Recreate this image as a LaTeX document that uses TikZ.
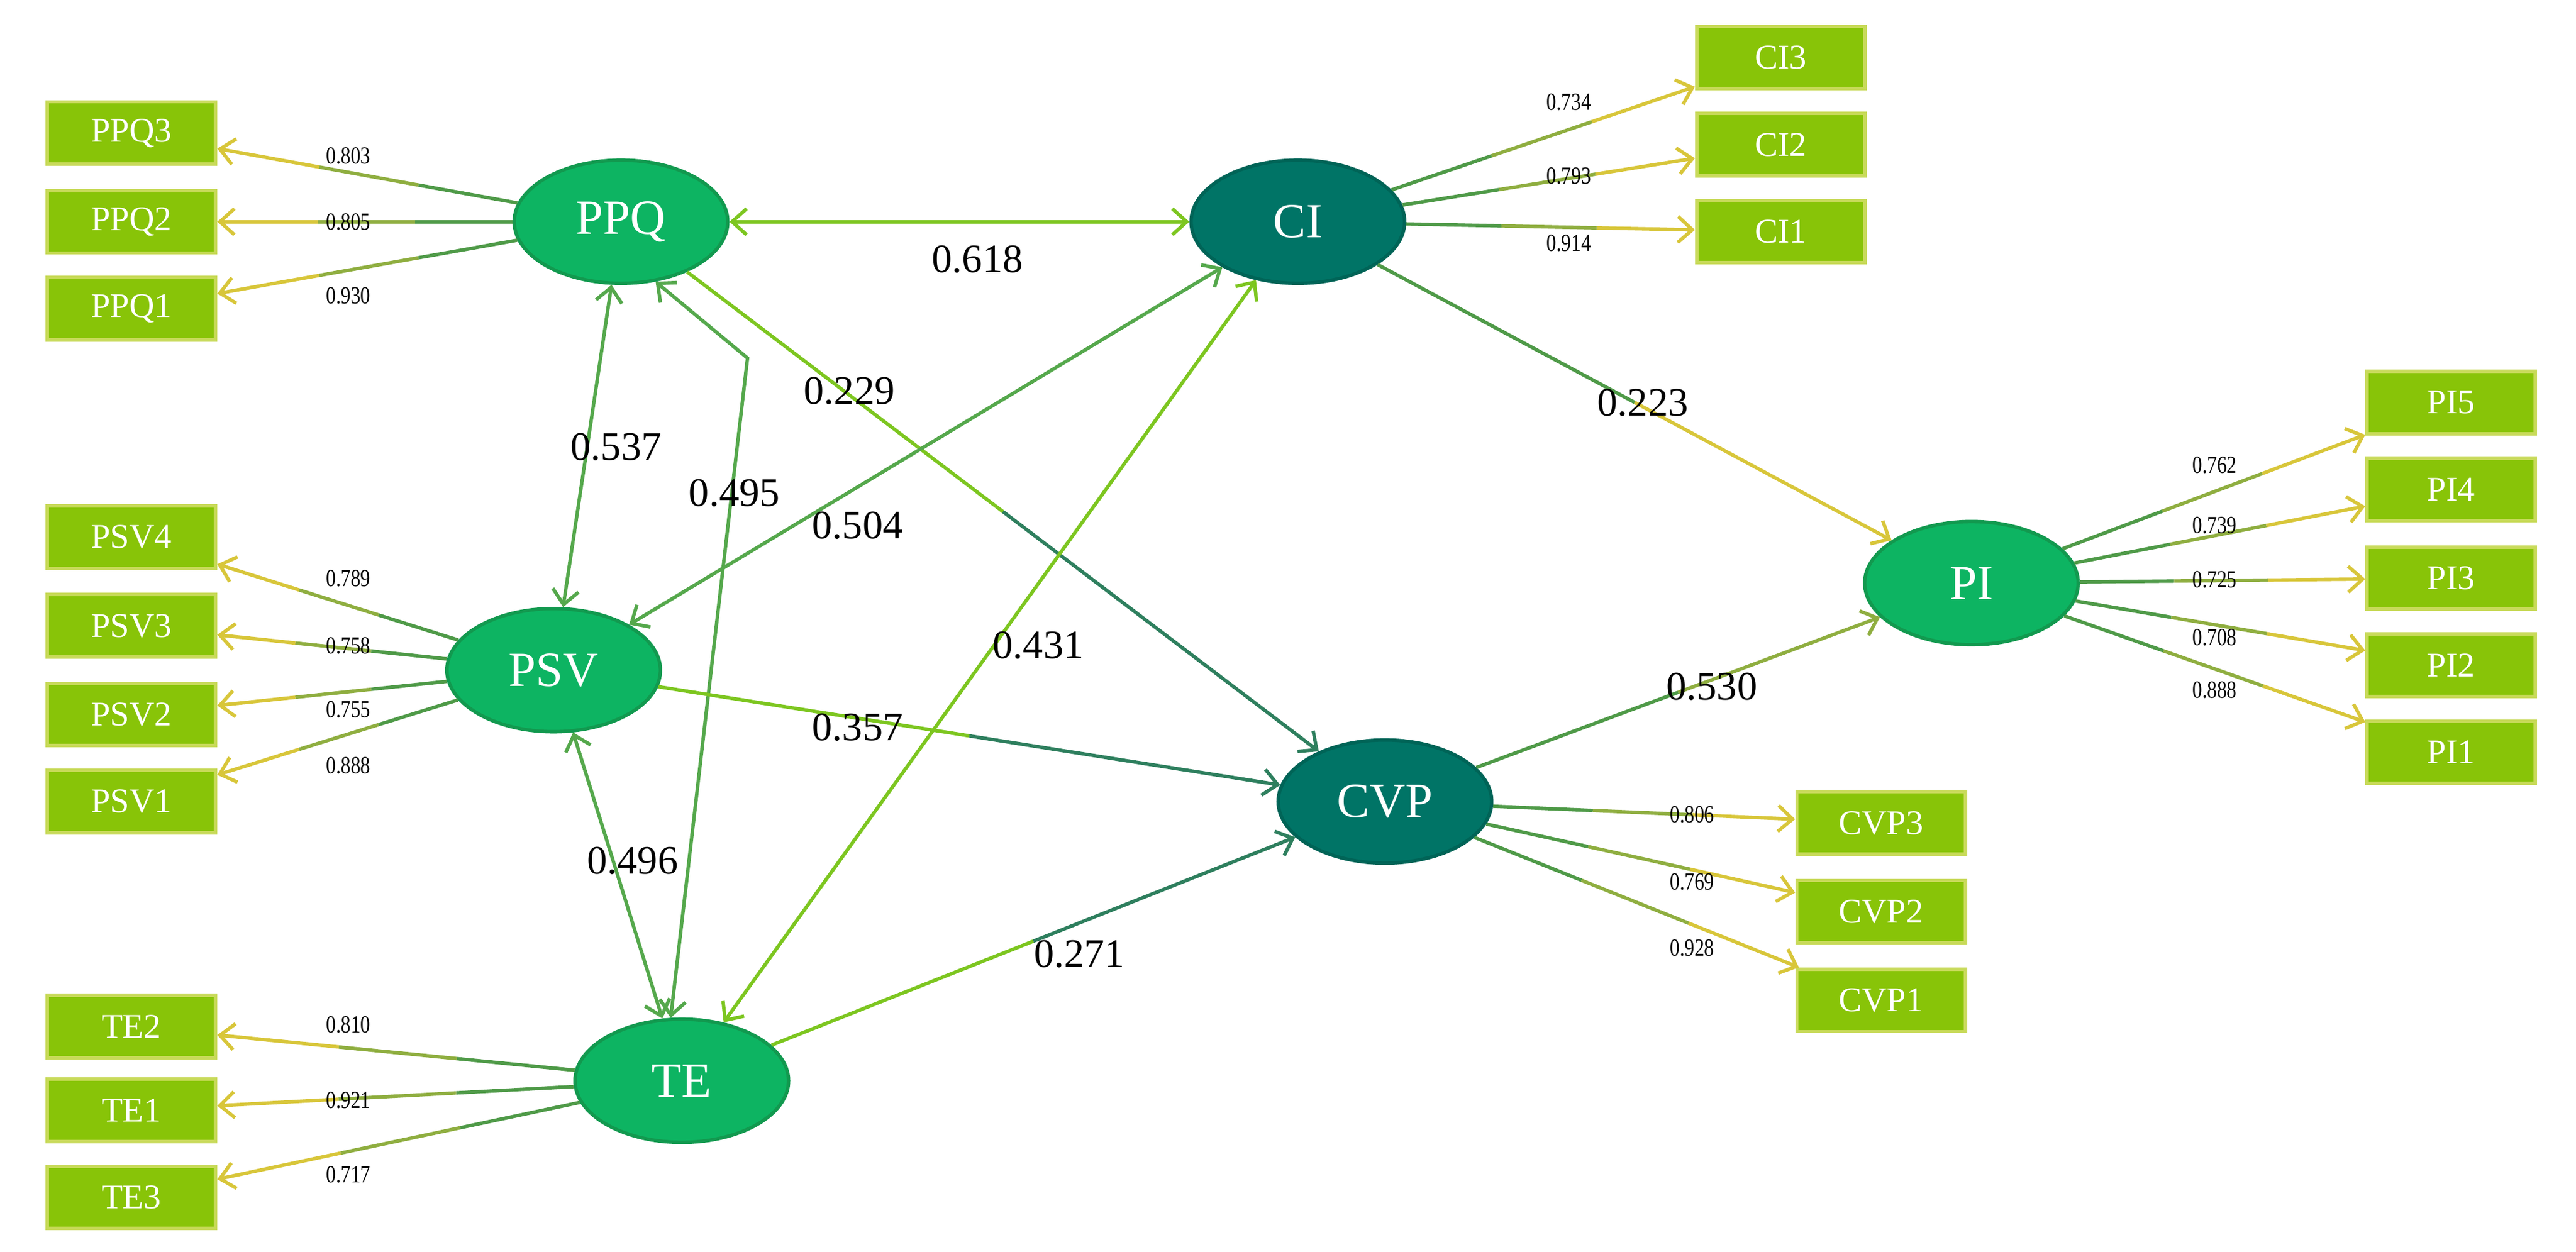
\documentclass[tikz,border=0pt]{standalone}
\usepackage{fontspec}
\setmainfont{Liberation Serif}
\usetikzlibrary{arrows.meta,shapes.geometric,calc}
\definecolor{lat}{HTML}{0DB462}
\definecolor{latb}{HTML}{12994F}
\definecolor{dlat}{HTML}{007466}
\definecolor{dlatb}{HTML}{006457}
\definecolor{ind}{HTML}{88C408}
\definecolor{indb}{HTML}{C8DA5A}
\definecolor{yel}{HTML}{D8C63A}
\definecolor{oli}{HTML}{8FAE40}
\definecolor{grn}{HTML}{4F9A48}
\definecolor{lgr}{HTML}{7DC620}
\definecolor{mgr}{HTML}{55A84C}
\definecolor{dgr}{HTML}{2E7F5E}
\begin{document}
\begin{tikzpicture}[x=0.02cm,y=-0.02cm,
 lv/.style={ellipse,draw=latb,fill=lat,line width=1.2pt,minimum width=2.6cm,minimum height=1.5cm,text=white,font=\fontsize{17}{17}\selectfont,inner sep=0pt},
 dlv/.style={lv,draw=dlatb,fill=dlat},
 mv/.style={rectangle,draw=indb,fill=ind,line width=1.2pt,minimum width=2.05cm,minimum height=0.76cm,text=white,font=\fontsize{12}{12}\selectfont,inner sep=0pt},
 ld/.style={font=\fontsize{8.5}{8.5}\selectfont,xscale=0.8,inner sep=0pt},
 pc/.style={font=\fontsize{14}{14}\selectfont,inner sep=0pt},
 e/.style={line width=1.2pt},
 tip/.style={-{Straight Barb[length=5pt,width=9pt,line width=1.2pt]}},
 btip/.style={{Straight Barb[length=5pt,width=9pt,line width=1.2pt]}-{Straight Barb[length=5pt,width=9pt,line width=1.2pt]}}]
\useasboundingbox (0,0) rectangle (1568,762);
\newcommand\ldg[2]{\path (#1) -- (#2) coordinate[pos=.33](#1#2a) coordinate[pos=.66](#1#2b);
 \draw[e,grn] (#1) -- (#1#2a); \draw[e,oli] (#1#2a) -- (#1#2b); \draw[e,yel,tip] (#1#2b) -- (#2);}
\newcommand\pth[4]{\path (#1) -- (#2) coordinate[pos=.5](#1#2m);
 \draw[e,#3] (#1) -- (#1#2m); \draw[e,#4,tip] (#1#2m) -- (#2);}
% latent
\node[lv] (PPQ) at (378,135) {PPQ};
\node[dlv] (CI) at (790,135) {CI};
\node[lv] (PSV) at (337,408) {PSV};
\node[dlv] (CVP) at (843,488) {CVP};
\node[lv] (TE) at (415,658) {TE};
\node[lv] (PI) at (1200,355) {PI};
% indicators
\foreach \n/\y in {PPQ3/81,PPQ2/135,PPQ1/188,PSV4/327,PSV3/381,PSV2/435,PSV1/488,TE2/625,TE1/676,TE3/729}
 \node[mv] (\n) at (80,\y) {\n};
\foreach \n/\y in {CI3/35,CI2/88,CI1/141}
 \node[mv] (\n) at (1084,\y) {\n};
\foreach \n/\y in {PI5/245,PI4/298,PI3/352,PI2/405,PI1/458}
 \node[mv] (\n) at (1492,\y) {\n};
\foreach \n/\y in {CVP3/501,CVP2/555,CVP1/609}
 \node[mv] (\n) at (1145,\y) {\n};
% loadings edges
\foreach \a/\b in {PPQ/PPQ3,PPQ/PPQ2,PPQ/PPQ1,PSV/PSV4,PSV/PSV3,PSV/PSV2,PSV/PSV1,TE/TE2,TE/TE1,TE/TE3,CI/CI3,CI/CI2,CI/CI1,PI/PI5,PI/PI4,PI/PI3,PI/PI2,PI/PI1,CVP/CVP3,CVP/CVP2,CVP/CVP1}
 {\ldg{\a}{\b}}
% loading labels
\foreach \t/\x/\y [count=\i] in {0.803/212/95,0.805/212/135,0.930/212/180,0.789/212/352,0.758/212/393,0.755/212/432,0.888/212/466,0.810/212/624,0.921/212/670,0.717/212/715,0.734/955/62,0.793/955/107,0.914/955/148,0.762/1348/283,0.739/1348/320,0.725/1348/353,0.708/1348/388,0.888/1348/420,0.806/1030/496,0.769/1030/537,0.928/1030/577}
 \node[ld] (l\i) at (\x,\y) {\t};
% structural
\draw[e,lgr,btip] (PPQ) -- (CI);
\draw[e,mgr,btip] (PPQ) -- (PSV);
\coordinate (bend) at (455,218);
\draw[e,mgr,btip] (PPQ.300) -- (bend) -- (TE.100);
\pth{PPQ}{CVP}{lgr}{dgr}
\draw[e,mgr,btip] (CI) -- (PSV);
\draw[e,lgr,btip] (CI) -- (TE);
\pth{CI}{PI}{grn}{yel}
\pth{PSV}{CVP}{lgr}{dgr}
\draw[e,mgr,btip] (PSV) -- (TE);
\pth{TE}{CVP}{lgr}{dgr}
\pth{CVP}{PI}{grn}{oli}
% path coefficients
\node[pc] (c1) at (595,158) {0.618};
\node[pc] (c2) at (375,272) {0.537};
\node[pc] (c3) at (447,300) {0.495};
\node[pc] (c4) at (517,238) {0.229};
\node[pc] (c5) at (522,320) {0.504};
\node[pc] (c6) at (632,393) {0.431};
\node[pc] (c7) at (1000,245) {0.223};
\node[pc] (c8) at (522,443) {0.357};
\node[pc] (c9) at (385,524) {0.496};
\node[pc] (c10) at (657,581) {0.271};
\node[pc] (c11) at (1042,418) {0.530};
\end{tikzpicture}
\end{document}
